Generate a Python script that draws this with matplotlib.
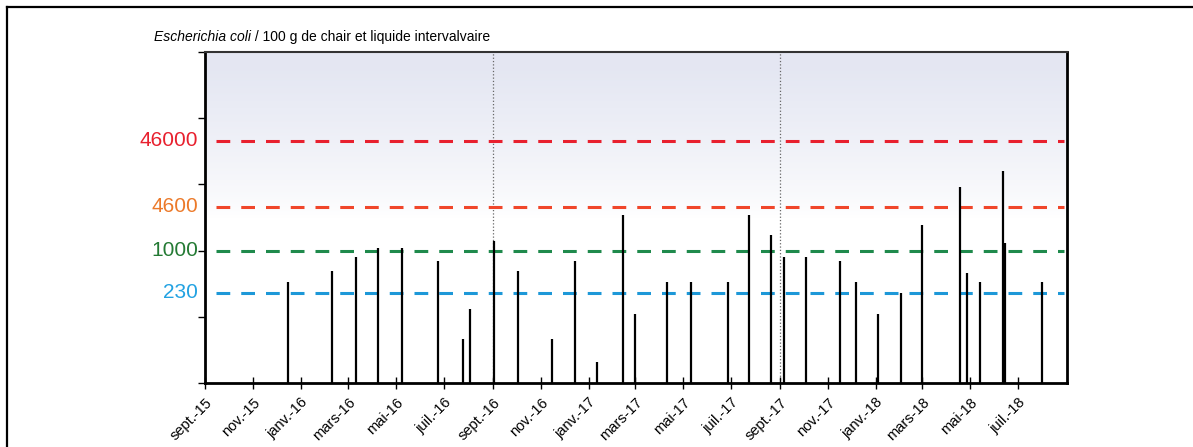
import numpy as np
import matplotlib
matplotlib.use("Agg")
import matplotlib.pyplot as plt
from matplotlib.lines import Line2D
import pandas as pd

plt.rcParams['font.family'] = ['Liberation Sans', 'DejaVu Sans']

# sampling dates and E. coli counts (per 100 g)
sample_dates = ['2015-12-16', '2016-02-10', '2016-03-11', '2016-04-08', '2016-05-09',
                '2016-06-23', '2016-07-25', '2016-08-03', '2016-09-02', '2016-10-03',
                '2016-11-15', '2016-12-14', '2017-01-11', '2017-02-14', '2017-03-01',
                '2017-04-10', '2017-05-11', '2017-06-27', '2017-07-24', '2017-08-21',
                '2017-09-06', '2017-10-04', '2017-11-16', '2017-12-07', '2018-01-04',
                '2018-02-02', '2018-03-01', '2018-04-18', '2018-04-27', '2018-05-14',
                '2018-06-12', '2018-06-14', '2018-07-31']
ecoli = [340, 490, 800, 1100, 1100,
         690, 46, 130, 1400, 490,
         46, 690, 21, 3500, 110,
         330, 330, 330, 3500, 1700,
         800, 800, 690, 330, 110,
         230, 2400, 9200, 460, 330,
         16000, 1300, 330]

thresholds = [46000, 4600, 1000, 230]
threshold_line_colors = ['#e8202e', '#f0462a', '#1f8a4c', '#1d98d8']
threshold_text_colors = ['#e8202e', '#ec7a2a', '#247a34', '#22a2e2']

tick_dates = pd.date_range('2015-09-01', '2018-07-01', freq='2MS')
tick_labels = ['sept.-15', 'nov.-15', 'janv.-16', 'mars-16', 'mai-16', 'juil.-16',
               'sept.-16', 'nov.-16', 'janv.-17', 'mars-17', 'mai-17', 'juil.-17',
               'sept.-17', 'nov.-17', 'janv.-18', 'mars-18', 'mai-18', 'juil.-18']
year_marks = ['2016-09-01', '2017-09-01']

x = pd.to_datetime(sample_dates)

fig = plt.figure(figsize=(11.93, 4.47), dpi=100)
ax = fig.add_axes([205 / 1193, 1 - 383 / 447, 862 / 1193, 331 / 447])

ax.set_yscale('log')
ax.set_ylim(10, 1e6)
ax.set_xlim(pd.Timestamp('2015-09-01'), pd.Timestamp('2018-09-01'))

# soft gradient background
grad = np.linspace(0, 1, 256).reshape(-1, 1)
top = np.array([0.895, 0.905, 0.95])
mix = np.clip((grad - 0.5) / 0.45, 0, 1) ** 0.8
img = np.ones((256, 1, 3)) * (1 - mix[..., None]) + top * mix[..., None]
ax.imshow(img, extent=[0, 1, 0, 1], transform=ax.transAxes, aspect='auto',
          origin='lower', zorder=0)

for d in year_marks:
    ax.axvline(pd.Timestamp(d), color='#666666', lw=0.9, ls=':', zorder=1)

for val, lc, tc in zip(thresholds, threshold_line_colors, threshold_text_colors):
    ax.axhline(val, xmin=0.013, xmax=0.996, color=lc, lw=2.2, dashes=(4.5, 3.6), zorder=2)
    ax.text(-0.008, val, str(val), color=tc, fontsize=15, ha='right', va='center',
            transform=ax.get_yaxis_transform())

ax.vlines(x, 10, ecoli, color='black', lw=1.6, zorder=3)

ax.set_xticks(tick_dates)
ax.set_xticklabels(tick_labels, rotation=45, ha='right', rotation_mode='anchor', fontsize=10.5)
ax.tick_params(axis='x', direction='inout', length=8, width=1, pad=5)
ax.set_yticks([10, 100, 1000, 10000, 100000, 1e6])
ax.set_yticklabels([])
ax.yaxis.set_minor_locator(matplotlib.ticker.NullLocator())
ax.tick_params(axis='y', direction='out', length=5, width=1)

for side in ['left', 'bottom', 'right']:
    ax.spines[side].set_linewidth(2)
ax.spines['top'].set_linewidth(1.5)
ax.spines['top'].set_color('#333333')

t1 = fig.text(154 / 1193, 1 - 37 / 447, 'Escherichia coli', fontsize=10, style='italic', va='center')
ax.annotate(' / 100 g de chair et liquide intervalvaire', xy=(1, 0.5), xycoords=t1,
            fontsize=10, va='center', ha='left', annotation_clip=False)

# outer frame of the scanned page
fig.add_artist(Line2D([7 / 1193, 7 / 1193], [0, 1 - 7 / 447], color='black', lw=1.6))
fig.add_artist(Line2D([7 / 1193, 1], [1 - 7 / 447, 1 - 7 / 447], color='black', lw=1.6))

fig.savefig('out.png', dpi=100)
